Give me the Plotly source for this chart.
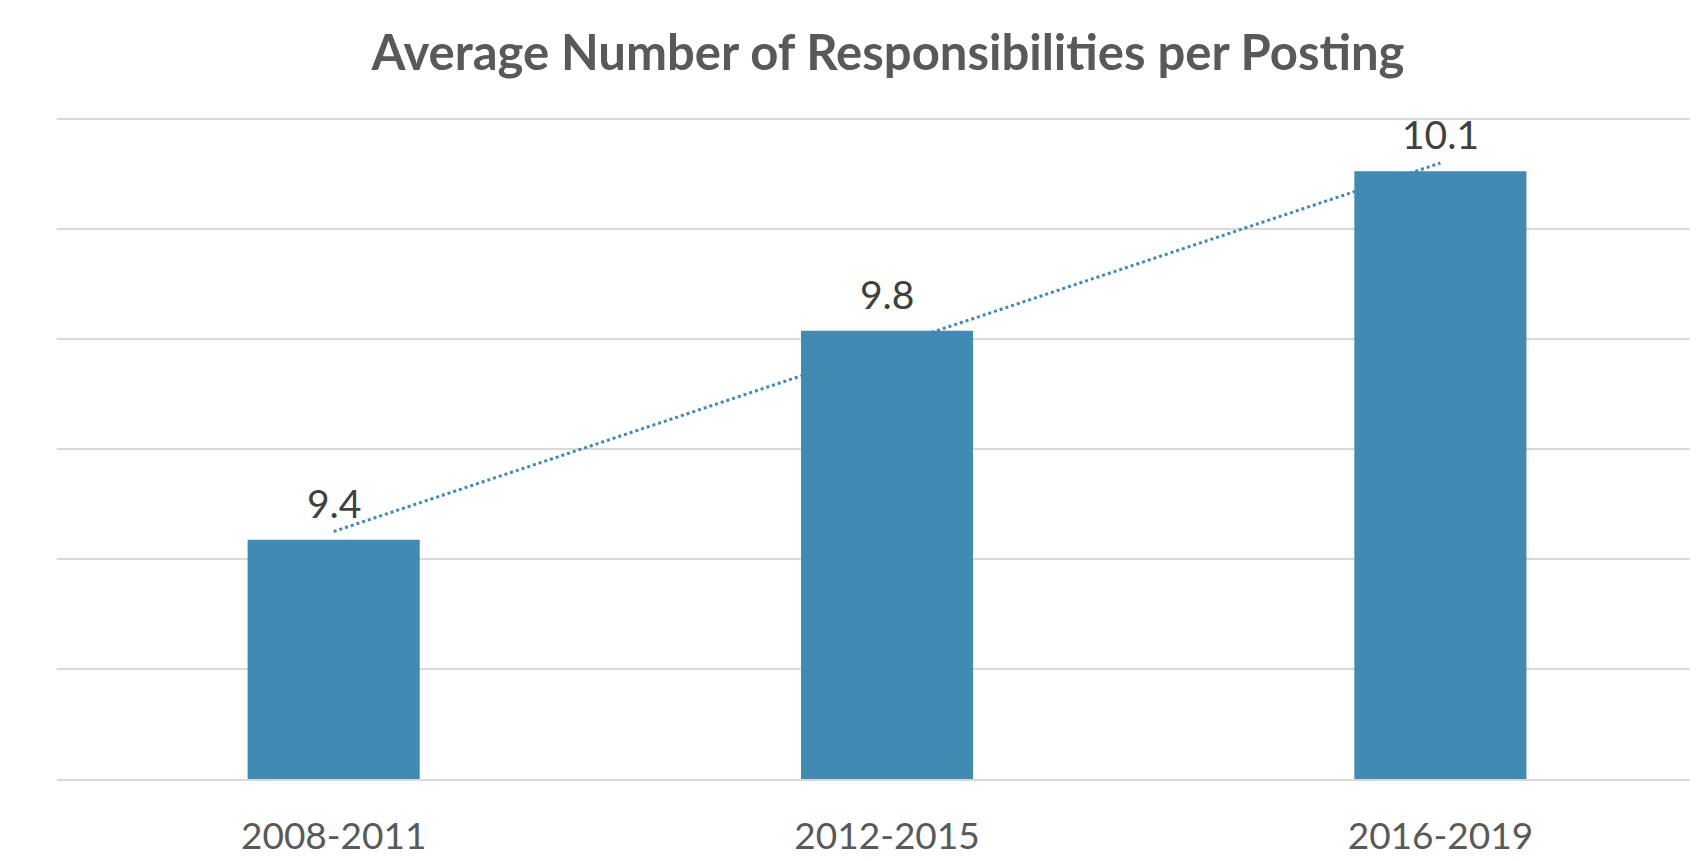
import numpy as np
import plotly.graph_objects as go

categories = ["2008-2011", "2012-2015", "2016-2019"]
values = [9.435, 9.815, 10.105]
labels = ["9.4", "9.8", "10.1"]
y_ticks = [9.0, 9.2, 9.4, 9.6, 9.8, 10.0, 10.2]

BAR = "#418AB3"
FONT = "Lato"

x_idx = np.arange(len(categories))
slope, intercept = np.polyfit(x_idx, values, 1)
trend = slope * x_idx + intercept

fig = go.Figure()
fig.add_trace(go.Scatter(
    x=categories, y=trend, mode="lines",
    line=dict(color=BAR, width=3, dash="dot"),
    hoverinfo="skip", showlegend=False,
))
fig.add_trace(go.Bar(
    x=categories, y=values, marker=dict(color=BAR, line=dict(width=0)),
    width=0.311, showlegend=False,
))

for c, v, t in zip(categories, values, labels):
    fig.add_annotation(
        x=c, y=v, text=t, showarrow=False, yanchor="bottom", yshift=12,
        font=dict(family=FONT, size=39, color="#404040"),
    )

fig.update_layout(
    width=1698, height=861,
    margin=dict(l=49, r=0, t=100, b=90),
    paper_bgcolor="white", plot_bgcolor="white",
    title=dict(
        text="<b>Average Number of Responsibilities per Posting</b>",
        x=880 / 1698, xanchor="center", xref="container",
        y=1 - 45 / 861, yanchor="middle", yref="container",
        font=dict(family=FONT, size=49, color="#595959"),
    ),
)
fig.update_xaxes(
    range=[-0.5, 2.48], showgrid=False, zeroline=False,
    showline=True, linecolor="#D9D9D9", linewidth=2,
    ticks="", ticklabelstandoff=24,
    tickfont=dict(family=FONT, size=37, color="#595959"),
)
fig.update_yaxes(
    range=[9.0, 10.22], tickvals=y_ticks, showticklabels=False,
    showgrid=True, gridcolor="#D9D9D9", gridwidth=2, zeroline=False,
    showline=False, ticks="",
)

fig.write_html("out.html")
